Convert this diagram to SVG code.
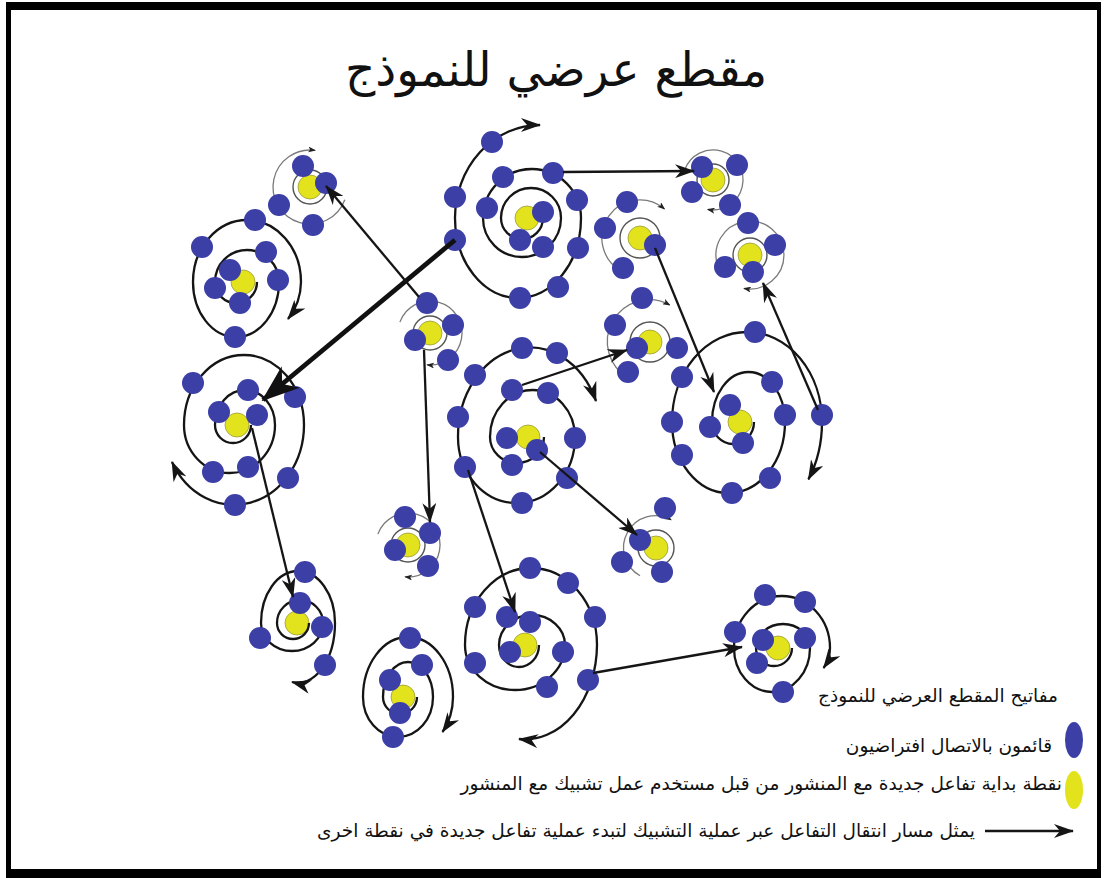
<svg xmlns="http://www.w3.org/2000/svg" width="1107" height="878" viewBox="0 0 1107 878">
<style>
.b{fill:#3b3fa6}
.y{fill:#e2e31c;stroke:#9a9a3a;stroke-width:0.8}
.sp{fill:none;stroke:#151515;stroke-width:2.3}
.gr{fill:none;stroke:#7a7a7a;stroke-width:1.3}
.gi{fill:none;stroke:#555;stroke-width:1.4}
.ln{fill:none;stroke:#151515;stroke-width:2.3}
.th{fill:none;stroke:#111;stroke-width:4.8}
.t{font-family:"DejaVu Sans",sans-serif;fill:#111}
</style>
<defs>
<marker id="ah" markerUnits="userSpaceOnUse" viewBox="0 0 20 14" refX="19" refY="7" markerWidth="20" markerHeight="14" orient="auto"><path d="M0,0 L20,7 L0,14 L6,7 z" fill="#151515"/></marker>
<marker id="ahT" markerUnits="userSpaceOnUse" viewBox="0 0 38 28" refX="36" refY="14" markerWidth="38" markerHeight="28" orient="auto"><path d="M0,0 L38,14 L0,28 L11,14 z" fill="#111"/></marker>
<marker id="ahS" markerUnits="userSpaceOnUse" viewBox="0 0 8 6" refX="7" refY="3" markerWidth="8" markerHeight="6" orient="auto"><path d="M0,0 L8,3 L0,6 L2,3 z" fill="#222"/></marker>
<circle id="d" r="11" class="b"/>
<circle id="yl" r="12" class="y"/>
</defs>
<rect x="6" y="2" width="1095" height="876" fill="#000"/>
<rect x="11" y="10" width="1086" height="859" fill="#fff"/>
<text class="t" x="556" y="86" font-size="47" text-anchor="middle">مقطع عرضي للنموذج</text>

<g id="S1" transform="translate(310,187)">
<use href="#yl"/><circle r="17" class="gi"/>
<path class="gr" d="M34.8,12.7 A37,37 0 1 1 5.1,-36.6" marker-end="url(#ahS)"/>
<use href="#d" x="-7" y="-21"/><use href="#d" x="16" y="-4"/><use href="#d" x="-31" y="18"/><use href="#d" x="3" y="38"/>
</g>
<g id="B" transform="translate(243,282)">
<use href="#yl"/>
<path class="sp" d="M14,0 A21,21 0 0 1 -28,0 A32,32 0 0 1 36,0 A43,55 0 0 1 -50,0 A54,62 0 0 1 58,0 A54,58 0 0 1 45,37" marker-end="url(#ah)"/>
<use href="#d" x="-13" y="-12"/><use href="#d" x="-28" y="6"/><use href="#d" x="-3" y="21"/><use href="#d" x="23" y="-30"/><use href="#d" x="35" y="-2"/><use href="#d" x="12" y="-62"/><use href="#d" x="-41" y="-35"/><use href="#d" x="-8" y="55"/>
</g>
<g id="A" transform="translate(527,218)">
<use href="#yl"/>
<path class="sp" d="M16,0 A21,21 0 0 1 -26,0 A30,30 0 0 1 34,0 A39,39 0 0 1 -44,0 A49,49 0 0 1 54,0 A63,80 0 0 1 -72,0 A85,93 0 0 1 13,-93" marker-end="url(#ah)"/>
<use href="#d" x="16" y="-6"/><use href="#d" x="-7" y="22"/><use href="#d" x="16" y="29"/><use href="#d" x="-40" y="-10"/><use href="#d" x="-24" y="-41"/><use href="#d" x="26" y="-45"/><use href="#d" x="50" y="-18"/><use href="#d" x="51" y="30"/><use href="#d" x="31" y="69"/><use href="#d" x="-7" y="80"/><use href="#d" x="-72" y="22"/><use href="#d" x="-72" y="-21"/><use href="#d" x="-35" y="-76"/>
</g>
<g id="C" transform="translate(237,425)">
<use href="#yl"/>
<path class="sp" d="M14,0 A18,18 0 0 1 -22,0 A30,35 0 0 1 38,0 A45.5,48 0 0 1 -53,0 A60,70 0 0 1 67,0 A70,80 0 0 1 -65,37" marker-end="url(#ah)"/>
<use href="#d" x="11" y="-35"/><use href="#d" x="-18" y="-13"/><use href="#d" x="20" y="-10"/><use href="#d" x="11" y="42"/><use href="#d" x="-24" y="47"/><use href="#d" x="-44" y="-42"/><use href="#d" x="58" y="-28"/><use href="#d" x="51" y="53"/><use href="#d" x="-2" y="80"/>
</g>
<g id="D" transform="translate(430,333)">
<use href="#yl"/><circle r="17" class="gi"/>
<path class="gr" d="M-30.1,-10.9 A32,32 0 1 1 -2.8,31.9" marker-end="url(#ahS)"/>
<use href="#d" x="-3" y="-30"/><use href="#d" x="23" y="-8"/><use href="#d" x="-15" y="7"/><use href="#d" x="18" y="27"/>
</g>
<g id="E" transform="translate(408,545)">
<use href="#yl"/><circle r="17" class="gi"/>
<path class="gr" d="M-30.1,-10.9 A32,32 0 1 1 -2.8,31.9" marker-end="url(#ahS)"/>
<use href="#d" x="-3" y="-28"/><use href="#d" x="22" y="-12"/><use href="#d" x="-13" y="5"/><use href="#d" x="20" y="21"/>
</g>
<g id="F" transform="translate(297,623)">
<use href="#yl"/>
<path class="sp" d="M12,0 A16,16 0 0 1 -20,0 A23,23 0 0 1 26,0 A31,28 0 0 1 -36,0 A37,52 0 0 1 38,0 A37,60 0 0 1 -5,59" marker-end="url(#ah)"/>
<use href="#d" x="3" y="-20"/><use href="#d" x="8" y="-51"/><use href="#d" x="25" y="4"/><use href="#d" x="-37" y="15"/><use href="#d" x="28" y="42"/>
</g>
<g id="G" transform="translate(403,697)">
<use href="#yl"/>
<path class="sp" d="M14,0 A17,17 0 0 1 -20,0 A25,35 0 0 1 30,0 A35,40 0 0 1 -40,0 A45,60 0 0 1 50,0 A45,55 0 0 1 39.5,35" marker-end="url(#ah)"/>
<use href="#d" x="-13" y="-17"/><use href="#d" x="19" y="-32"/><use href="#d" x="7" y="-59"/><use href="#d" x="-3" y="16"/><use href="#d" x="-10" y="40"/>
</g>
<g id="H" transform="translate(528,437)">
<use href="#yl"/>
<path class="sp" d="M16,0 A27,26 0 0 1 -38,0 A42.5,47 0 0 1 47,0 A58.5,66 0 0 1 -70,0 A72,89 0 0 1 68,-36" marker-end="url(#ah)"/>
<use href="#d" x="-21" y="1"/><use href="#d" x="9" y="13"/><use href="#d" x="-16" y="28"/><use href="#d" x="-16" y="-47"/><use href="#d" x="20" y="-44"/><use href="#d" x="47" y="1"/><use href="#d" x="39" y="41"/><use href="#d" x="-6" y="66"/><use href="#d" x="-63" y="30"/><use href="#d" x="-70" y="-20"/><use href="#d" x="-53" y="-62"/><use href="#d" x="-6" y="-89"/><use href="#d" x="29" y="-84"/>
</g>
<g id="I" transform="translate(650,342)">
<use href="#yl"/><circle r="20" class="gi"/>
<path class="gr" d="M-21,36.4 A42,42 0 0 1 19.7,-37.1" marker-end="url(#ahS)"/>
<use href="#d" x="-13" y="6"/><use href="#d" x="-35" y="-17"/><use href="#d" x="-8" y="-44"/><use href="#d" x="27" y="6"/><use href="#d" x="-22" y="30"/>
</g>
<g id="J" transform="translate(656,548)">
<use href="#yl"/><circle r="18" class="gi"/>
<path class="gr" d="M-16,27.7 A32,32 0 0 1 15,-28.3" marker-end="url(#ahS)"/>
<use href="#d" x="9" y="-40"/><use href="#d" x="-16" y="-8"/><use href="#d" x="-34" y="14"/><use href="#d" x="6" y="24"/>
</g>
<g id="K" transform="translate(525,645)">
<use href="#yl"/>
<path class="sp" d="M14,0 A20,22 0 0 1 -26,0 A33,30 0 0 1 40,0 A50,45 0 0 1 -60,0 A66,77 0 0 1 72,0 A72,95 0 0 1 -6,94" marker-end="url(#ah)"/>
<use href="#d" x="5" y="-23"/><use href="#d" x="-18" y="-28"/><use href="#d" x="-15" y="7"/><use href="#d" x="38" y="7"/><use href="#d" x="70" y="-28"/><use href="#d" x="43" y="-62"/><use href="#d" x="5" y="-77"/><use href="#d" x="-50" y="-38"/><use href="#d" x="-50" y="18"/><use href="#d" x="22" y="42"/><use href="#d" x="63" y="35"/>
</g>
<g id="L" transform="translate(778,648)">
<use href="#yl"/>
<path class="sp" d="M14,0 A18,18 0 0 1 -22,0 A27,24 0 0 1 32,0 A38,44 0 0 1 -44,0 A48,52 0 0 1 52,0 A48,40 0 0 1 45.6,20" marker-end="url(#ah)"/>
<use href="#d" x="-15" y="-8"/><use href="#d" x="27" y="-10"/><use href="#d" x="-21" y="15"/><use href="#d" x="-43" y="-16"/><use href="#d" x="-13" y="-53"/><use href="#d" x="27" y="-46"/><use href="#d" x="5" y="44"/>
</g>
<g id="M" transform="translate(740,422)">
<use href="#yl"/>
<path class="sp" d="M14,0 A21,22 0 0 1 -28,0 A36.5,50 0 0 1 45,0 A56.5,71 0 0 1 -68,0 A75,90 0 0 1 82,0 A75,100 0 0 1 68.4,57.4" marker-end="url(#ah)"/>
<use href="#d" x="-10" y="-17"/><use href="#d" x="-30" y="5"/><use href="#d" x="3" y="21"/><use href="#d" x="32" y="-40"/><use href="#d" x="45" y="-7"/><use href="#d" x="30" y="56"/><use href="#d" x="-8" y="71"/><use href="#d" x="-58" y="33"/><use href="#d" x="-68" y="0"/><use href="#d" x="-58" y="-45"/><use href="#d" x="15" y="-90"/><use href="#d" x="82" y="-7"/>
</g>
<g id="N" transform="translate(640,238)">
<use href="#yl"/><circle r="20" class="gi"/>
<path class="gr" d="M-19,32.9 A38,38 0 1 1 24.4,-29.1" marker-end="url(#ahS)"/>
<use href="#d" x="15" y="7"/><use href="#d" x="-35" y="-10"/><use href="#d" x="-13" y="-36"/><use href="#d" x="-17" y="30"/>
</g>
<g id="O" transform="translate(750,255)">
<use href="#yl"/><circle r="17" class="gi"/>
<path class="gr" d="M-32,11.6 A34,34 0 1 1 -5.9,33.5" marker-end="url(#ahS)"/>
<use href="#d" x="3" y="17"/><use href="#d" x="-25" y="12"/><use href="#d" x="-2" y="-32"/><use href="#d" x="25" y="-10"/>
</g>
<g id="P" transform="translate(713,180)">
<use href="#yl"/><circle r="16" class="gi"/>
<path class="gr" d="M-28.2,-10.3 A30,30 0 1 1 -5.2,29.5" marker-end="url(#ahS)"/>
<use href="#d" x="-11" y="-13"/><use href="#d" x="24" y="-15"/><use href="#d" x="-21" y="12"/><use href="#d" x="17" y="25"/>
</g>

<g id="connectors">
<path class="th" d="M455,240 L263,400" marker-end="url(#ahT)"/>
<path class="ln" d="M419,297 L326,186" marker-end="url(#ah)"/>
<path class="ln" d="M563,172 L694,171" marker-end="url(#ah)"/>
<path class="ln" d="M424,350 L430,522" marker-end="url(#ah)"/>
<path class="ln" d="M252,428 L293,597" marker-end="url(#ah)"/>
<path class="ln" d="M522,385 L627,350" marker-end="url(#ah)"/>
<path class="ln" d="M540,452 L637,535" marker-end="url(#ah)"/>
<path class="ln" d="M468,470 L515,612" marker-end="url(#ah)"/>
<path class="ln" d="M593,673 L742,647" marker-end="url(#ah)"/>
<path class="ln" d="M655,248 L714,392" marker-end="url(#ah)"/>
<path class="ln" d="M818,410 L763,283" marker-end="url(#ah)"/>
</g>

<g id="legend">
<text class="t" x="1058" y="702" font-size="18.5" text-anchor="end">مفاتيح المقطع العرضي للنموذج</text>
<ellipse cx="1074" cy="740" rx="9" ry="18" class="b"/>
<text class="t" x="1052" y="752" font-size="18.5" text-anchor="end">قائمون بالاتصال افتراضيون</text>
<ellipse cx="1074" cy="790" rx="9" ry="19" fill="#e2e31c"/>
<text class="t" x="1062" y="790" font-size="18.5" text-anchor="end">نقطة  بداية تفاعل جديدة مع المنشور من قبل مستخدم عمل تشبيك مع المنشور</text>
<path class="ln" d="M985,831 L1073,831" marker-end="url(#ah)"/>
<text class="t" x="975" y="837" font-size="18.5" text-anchor="end">يمثل مسار انتقال التفاعل عبر عملية التشبيك لتبدء عملية تفاعل جديدة في نقطة اخرى</text>
</g>
</svg>
